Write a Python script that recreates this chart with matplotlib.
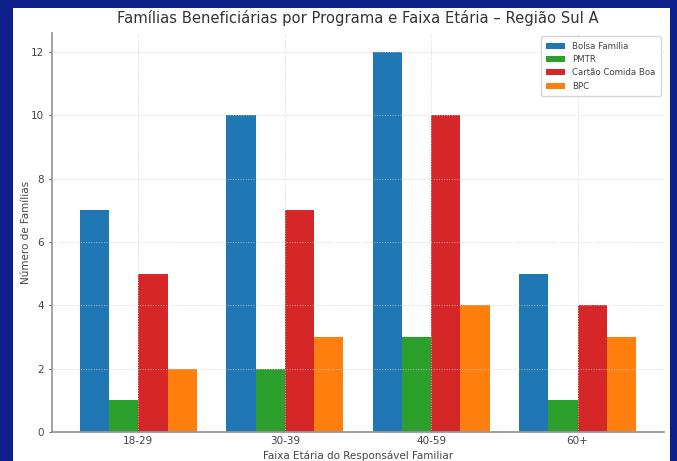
import numpy as np
import matplotlib
matplotlib.use("Agg")
import matplotlib.pyplot as plt
from matplotlib.patches import Rectangle

# Dados
faixas = ['18-29', '30-39', '40-59', '60+']
programas = ['Bolsa Família', 'PMTR', 'Cartão Comida Boa', 'BPC']
bolsa_familia = [7, 10, 12, 5]
pmtr = [1, 2, 3, 1]
cartao_comida_boa = [5, 7, 10, 4]
bpc = [2, 3, 4, 3]
series = [bolsa_familia, pmtr, cartao_comida_boa, bpc]
cores = ['#1f77b4', '#2ca02c', '#d62728', '#ff7f0e']

W, H = 677, 461
fig = plt.figure(figsize=(W / 100, H / 100), dpi=100, facecolor='#0e1f8c')

# fundo branco (moldura azul em cima e nos lados)
fundo = Rectangle((13 / W, 0), (670 - 13) / W, (H - 8) / H,
                  transform=fig.transFigure, facecolor='white',
                  edgecolor='none', zorder=-10)
fig.patches.append(fundo)

ax = fig.add_axes([52 / W, (H - 432) / H, (664 - 52) / W, (432 - 33) / H])
ax.set_facecolor('white')

x = np.arange(len(faixas))
largura = 0.2
for i, (nome, valores) in enumerate(zip(programas, series)):
    ax.bar(x + (i - 1.5) * largura, valores, largura, label=nome, color=cores[i])

ax.set_xticks(x)
ax.set_xticklabels(faixas)
ax.set_yticks(range(0, 13, 2))
ax.tick_params(axis='both', labelsize=7.5, colors='#444444', length=2, width=0.6)
ax.tick_params(axis='x', length=0, pad=3)

ax.set_xlabel('Faixa Etária do Responsável Familiar', fontsize=7.5, color='#444444', labelpad=3)
ax.set_ylabel('Número de Famílias', fontsize=7.5, color='#444444', labelpad=0)
ax.set_title('Famílias Beneficiárias por Programa e Faixa Etária – Região Sul A',
             fontsize=10.6, color='#333333', pad=7)

ax.grid(True, linestyle=':', linewidth=0.7, color='#cccccc', alpha=0.8)

for s in ['top', 'right']:
    ax.spines[s].set_visible(False)
for s in ['left', 'bottom']:
    ax.spines[s].set_color('#999999')
    ax.spines[s].set_linewidth(1.3)

leg = ax.legend(loc='upper right', fontsize=6.2, frameon=True, borderpad=0.6,
                handlelength=2.2, labelspacing=0.5, borderaxespad=0.4)
for t in leg.get_texts():
    t.set_color('#444444')

fig.savefig('out.png', dpi=100, facecolor=fig.get_facecolor())
